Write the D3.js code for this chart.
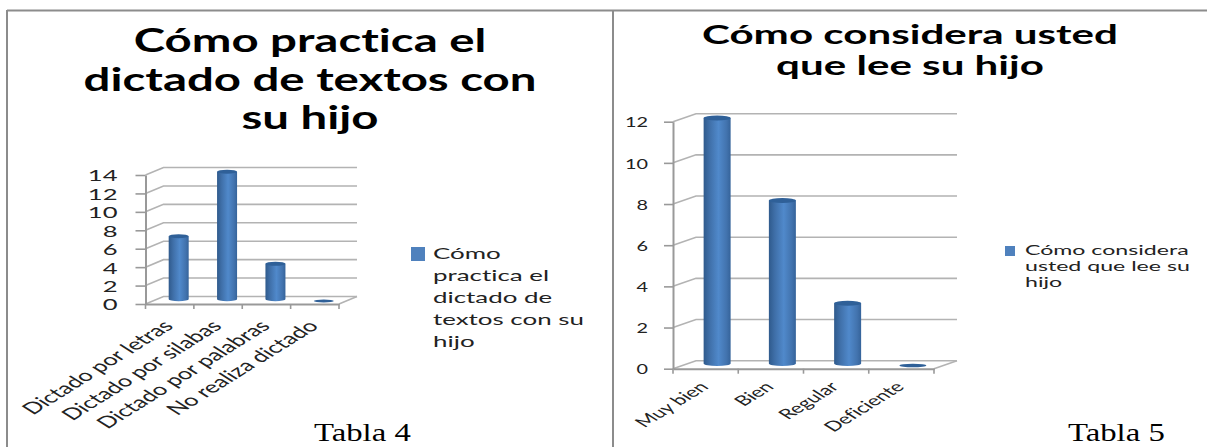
<!DOCTYPE html>
<html>
<head>
<meta charset="utf-8">
<script src="https://cdnjs.cloudflare.com/ajax/libs/d3/7.8.5/d3.min.js"></script>
<style>
  html, body { margin: 0; padding: 0; background: #fff; }
  svg { display: block; }
  text { font-family: Lato, "Open Sans", sans-serif; fill: #222; font-variant-ligatures: none; }
</style>
</head>
<body>
<div id="chart"></div>
<script>
const categoriesA = ["Dictado por letras", "Dictado por silabas", "Dictado por palabras", "No realiza dictado"];
const valuesA = [7, 14, 4, 0];
const ticksA = [0, 2, 4, 6, 8, 10, 12, 14];
const titleA = ["Cómo practica el", "dictado de textos con", "su hijo"];
const legendA = ["Cómo", "practica el", "dictado de", "textos con su", "hijo"];

const categoriesB = ["Muy bien", "Bien", "Regular", "Deficiente"];
const valuesB = [12, 8, 3, 0];
const ticksB = [0, 2, 4, 6, 8, 10, 12];
const titleB = ["Cómo considera usted", "que lee su hijo"];
const legendB = ["Cómo considera", "usted que lee su", "hijo"];

const svg = d3.select("#chart").append("svg")
  .attr("width", 1207)
  .attr("height", 447);

const defs = svg.append("defs");
const grad = defs.append("linearGradient").attr("id", "cyl");
grad.append("stop").attr("offset", "0%").attr("stop-color", "#2f5a8c");
grad.append("stop").attr("offset", "22%").attr("stop-color", "#3f6fa8");
grad.append("stop").attr("offset", "55%").attr("stop-color", "#5089cb");
grad.append("stop").attr("offset", "85%").attr("stop-color", "#4273ae");
grad.append("stop").attr("offset", "100%").attr("stop-color", "#35639a");

// page frame
const frame = svg.append("g").attr("stroke", "#8c8c8c").attr("stroke-width", 2);
frame.append("line").attr("x1", 7).attr("x2", 1207).attr("y1", 10.5).attr("y2", 10.5);
frame.append("line").attr("x1", 7).attr("x2", 7).attr("y1", 10).attr("y2", 447);
frame.append("line").attr("x1", 613).attr("x2", 613).attr("y1", 10).attr("y2", 447);

// text pulled wider than the font, like the stretched picture
function wideText(parent, str, x, y, size, sx, anchor, weight) {
  return parent.append("text")
    .attr("transform", `translate(${x},${y}) scale(${sx},1)`)
    .attr("text-anchor", anchor)
    .attr("font-size", size)
    .attr("font-weight", weight || 400)
    .text(str);
}

function drawChart(c) {
  const g = svg.append("g");
  const x = d3.scaleBand().domain(c.categories).range([c.x0, c.x1]);
  const y = d3.scaleLinear().domain([0, c.max]).range([c.y0, c.yTop]);
  const gridColor = "#b3b3b3";

  // back wall grid and side wall
  const grid = g.append("g").attr("stroke", gridColor).attr("stroke-width", 1.6).attr("fill", "none");
  c.ticks.forEach(t => {
    grid.append("polyline")
      .attr("points", [[c.x0, y(t)], [c.x0 + c.dx, y(t) - c.dy], [c.x1 + c.dx, y(t) - c.dy]].join(" "));
  });
  grid.append("line")
    .attr("x1", c.x1).attr("y1", c.y0)
    .attr("x2", c.x1 + c.dx).attr("y2", c.y0 - c.dy);

  // axes
  const axisY = g.append("g").attr("transform", `translate(${c.x0},0)`)
    .call(d3.axisLeft(y).tickValues(c.ticks).tickSize(c.tickLen).tickSizeOuter(0).tickFormat(d3.format("d")));
  axisY.selectAll("line").attr("stroke", "#999").attr("stroke-width", 1.6);
  axisY.select(".domain").attr("stroke", "#999").attr("stroke-width", 2);
  axisY.selectAll("text")
    .attr("font-size", c.tickSize)
    .attr("font-family", "Lato")
    .attr("x", 0).attr("y", 0).attr("dy", null)
    .attr("text-anchor", "end")
    .attr("dominant-baseline", "central")
    .attr("transform", `translate(${-c.tickGap},0) scale(${c.tickStretch},1)`);

  const axisX = g.append("g").attr("transform", `translate(0,${c.y0})`)
    .call(d3.axisBottom(x).tickValues([]).tickSizeOuter(0));
  axisX.select(".domain").attr("stroke", "#999").attr("stroke-width", 2);
  axisX.selectAll(".sep")
    .data(d3.range(c.categories.length + 1))
    .enter().append("line")
    .attr("class", "sep")
    .attr("x1", i => c.x0 + i * x.step()).attr("x2", i => c.x0 + i * x.step())
    .attr("y1", 0).attr("y2", 5)
    .attr("stroke", "#999").attr("stroke-width", 1.6);

  // bars sit halfway into the depth
  const bars = g.append("g");
  c.values.forEach((v, i) => {
    const cx = x(c.categories[i]) + x.step() / 2 + c.dx * 0.5;
    const top = y(v) - c.dy * 0.45;
    const base = y(0) - c.dy * 0.65;
    const rx = c.barW / 2;
    const ry = c.ry;
    if (v > 0) {
      bars.append("path")
        .attr("d", `M${cx - rx},${top} L${cx - rx},${base} A${rx},${ry} 0 0 0 ${cx + rx},${base} L${cx + rx},${top} Z`)
        .attr("fill", "url(#cyl)");
    }
    bars.append("ellipse")
      .attr("cx", cx).attr("cy", v > 0 ? top : y(0) - c.dy * 0.4)
      .attr("rx", rx).attr("ry", v > 0 ? ry : ry * 0.7)
      .attr("fill", "#2f6098");
  });

  // rotated category labels
  g.append("g").selectAll("text")
    .data(c.categories)
    .enter().append("text")
    .attr("transform", d => `translate(${x(d) + x.step() / 2 + c.labelDx},${c.y0 + c.labelDy}) scale(${c.labelStretch},1) rotate(-45)`)
    .attr("text-anchor", "end")
    .attr("font-size", c.labelSize)
    .text(d => d);

  // title
  c.title.forEach((line, i) => {
    wideText(g, line, c.titleX, c.titleY + i * c.titleLead, c.titleSize, c.titleStretch, "middle", 700).style("fill", "#000");
  });

  // legend
  g.append("rect")
    .attr("x", c.legX).attr("y", c.legY)
    .attr("width", c.legBox).attr("height", c.legBox)
    .attr("fill", "#4f81bd");
  c.legend.forEach((line, i) => {
    wideText(g, line, c.legTextX, c.legTextY + i * c.legLead, c.legSize, c.legStretch, "start");
  });

  // caption under the chart
  wideText(g, c.caption, c.capX, 441, 25, 1.31, "start")
    .style("font-family", "'Liberation Serif', serif")
    .style("fill", "#000");
}

drawChart({
  categories: categoriesA, values: valuesA, ticks: ticksA, max: 14,
  x0: 145.5, x1: 339, y0: 304, yTop: 175, dx: 18, dy: 7.5,
  tickLen: 10, tickGap: 28, tickSize: 16, tickStretch: 1.6,
  barW: 20, ry: 2,
  labelDx: 5, labelDy: 23, labelSize: 16, labelStretch: 1.6,
  title: titleA, titleX: 310, titleY: 52, titleLead: 38.5, titleSize: 32, titleStretch: 1.48,
  legend: legendA, legX: 411, legY: 247, legBox: 14,
  legTextX: 433, legTextY: 259, legLead: 22, legSize: 16, legStretch: 1.62,
  caption: "Tabla 4", capX: 314
});

drawChart({
  categories: categoriesB, values: valuesB, ticks: ticksB, max: 12,
  x0: 673, x1: 934, y0: 368.7, yTop: 121.7, dx: 23, dy: 8,
  tickLen: 9, tickGap: 25, tickSize: 13.5, tickStretch: 1.47,
  barW: 27, ry: 2.5,
  labelDx: 4, labelDy: 19, labelSize: 14, labelStretch: 1.6,
  title: titleB, titleX: 910, titleY: 44, titleLead: 31, titleSize: 26, titleStretch: 1.62,
  legend: legendB, legX: 1005, legY: 246, legBox: 10,
  legTextX: 1025, legTextY: 255, legLead: 16, legSize: 13, legStretch: 1.78,
  caption: "Tabla 5", capX: 1068
});
</script>
</body>
</html>
